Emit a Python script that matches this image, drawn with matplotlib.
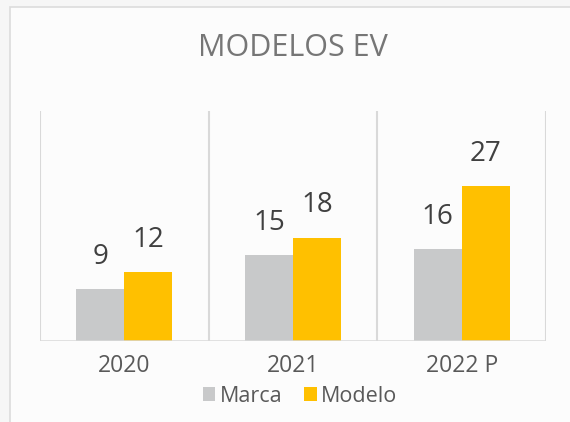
import matplotlib.pyplot as plt
import numpy as np
from matplotlib.patches import Rectangle

# datos
anios = ['2020', '2021', '2022 P']
marca = [9, 15, 16]
modelo = [12, 18, 27]

gris = '#C8C9CA'
amarillo = '#FFC000'

plt.rcParams['font.family'] = ['Open Sans', 'DejaVu Sans']

fig = plt.figure(figsize=(5.7, 4.22), dpi=100)
fig.patch.set_facecolor('#f6f6f6')
# marco claro de fondo
fig.patches.append(Rectangle((10 / 570, -0.05), 1.0, 1 - 7 / 422 + 0.05, transform=fig.transFigure,
                             facecolor='#fcfcfc', edgecolor='#dcdcdc', linewidth=1.2, zorder=-10))

ax = fig.add_axes([40 / 570, 81 / 422, 506 / 570, 230 / 422])
ax.set_facecolor('none')

x = np.arange(len(anios))
w = 0.285
b1 = ax.bar(x - w / 2, marca, w, color=gris, label='Marca', zorder=2)
b2 = ax.bar(x + w / 2, modelo, w, color=amarillo, label='Modelo', zorder=2)

for barras in (b1, b2):
    for r in barras:
        ax.annotate(str(int(r.get_height())), (r.get_x() + r.get_width() / 2, r.get_height()),
                    xytext=(0, 18), textcoords='offset points', ha='center', va='baseline',
                    fontsize=20, color='#404040')

ax.set_xlim(-0.5, len(anios) - 0.5)
ax.set_ylim(0, 40)
for xv in np.arange(-0.5, len(anios), 1.0):
    ax.axvline(xv, color='#d9d9d9', linewidth=1.5, zorder=1)
ax.axhline(0, color='#d9d9d9', linewidth=1.8, zorder=3)

for s in ax.spines.values():
    s.set_visible(False)
ax.set_yticks([])
ax.set_xticks(x)
ax.set_xticklabels(anios, fontsize=16.5, color='#595959')
ax.tick_params(axis='x', length=0, pad=9)

fig.text(293 / 570, 1 - 48 / 422, 'MODELOS EV', ha='center', va='center', fontsize=22, color='#767676')

leg = fig.legend(loc='center', bbox_to_anchor=(300 / 570, 1 - 396 / 422), ncol=2, frameon=False,
                 fontsize=15.5, handlelength=0.6, handleheight=0.6, handletextpad=0.2, columnspacing=1.0,
                 borderpad=0.1)
for t in leg.get_texts():
    t.set_color('#595959')

fig.savefig('out.png', dpi=100, facecolor=fig.get_facecolor())
